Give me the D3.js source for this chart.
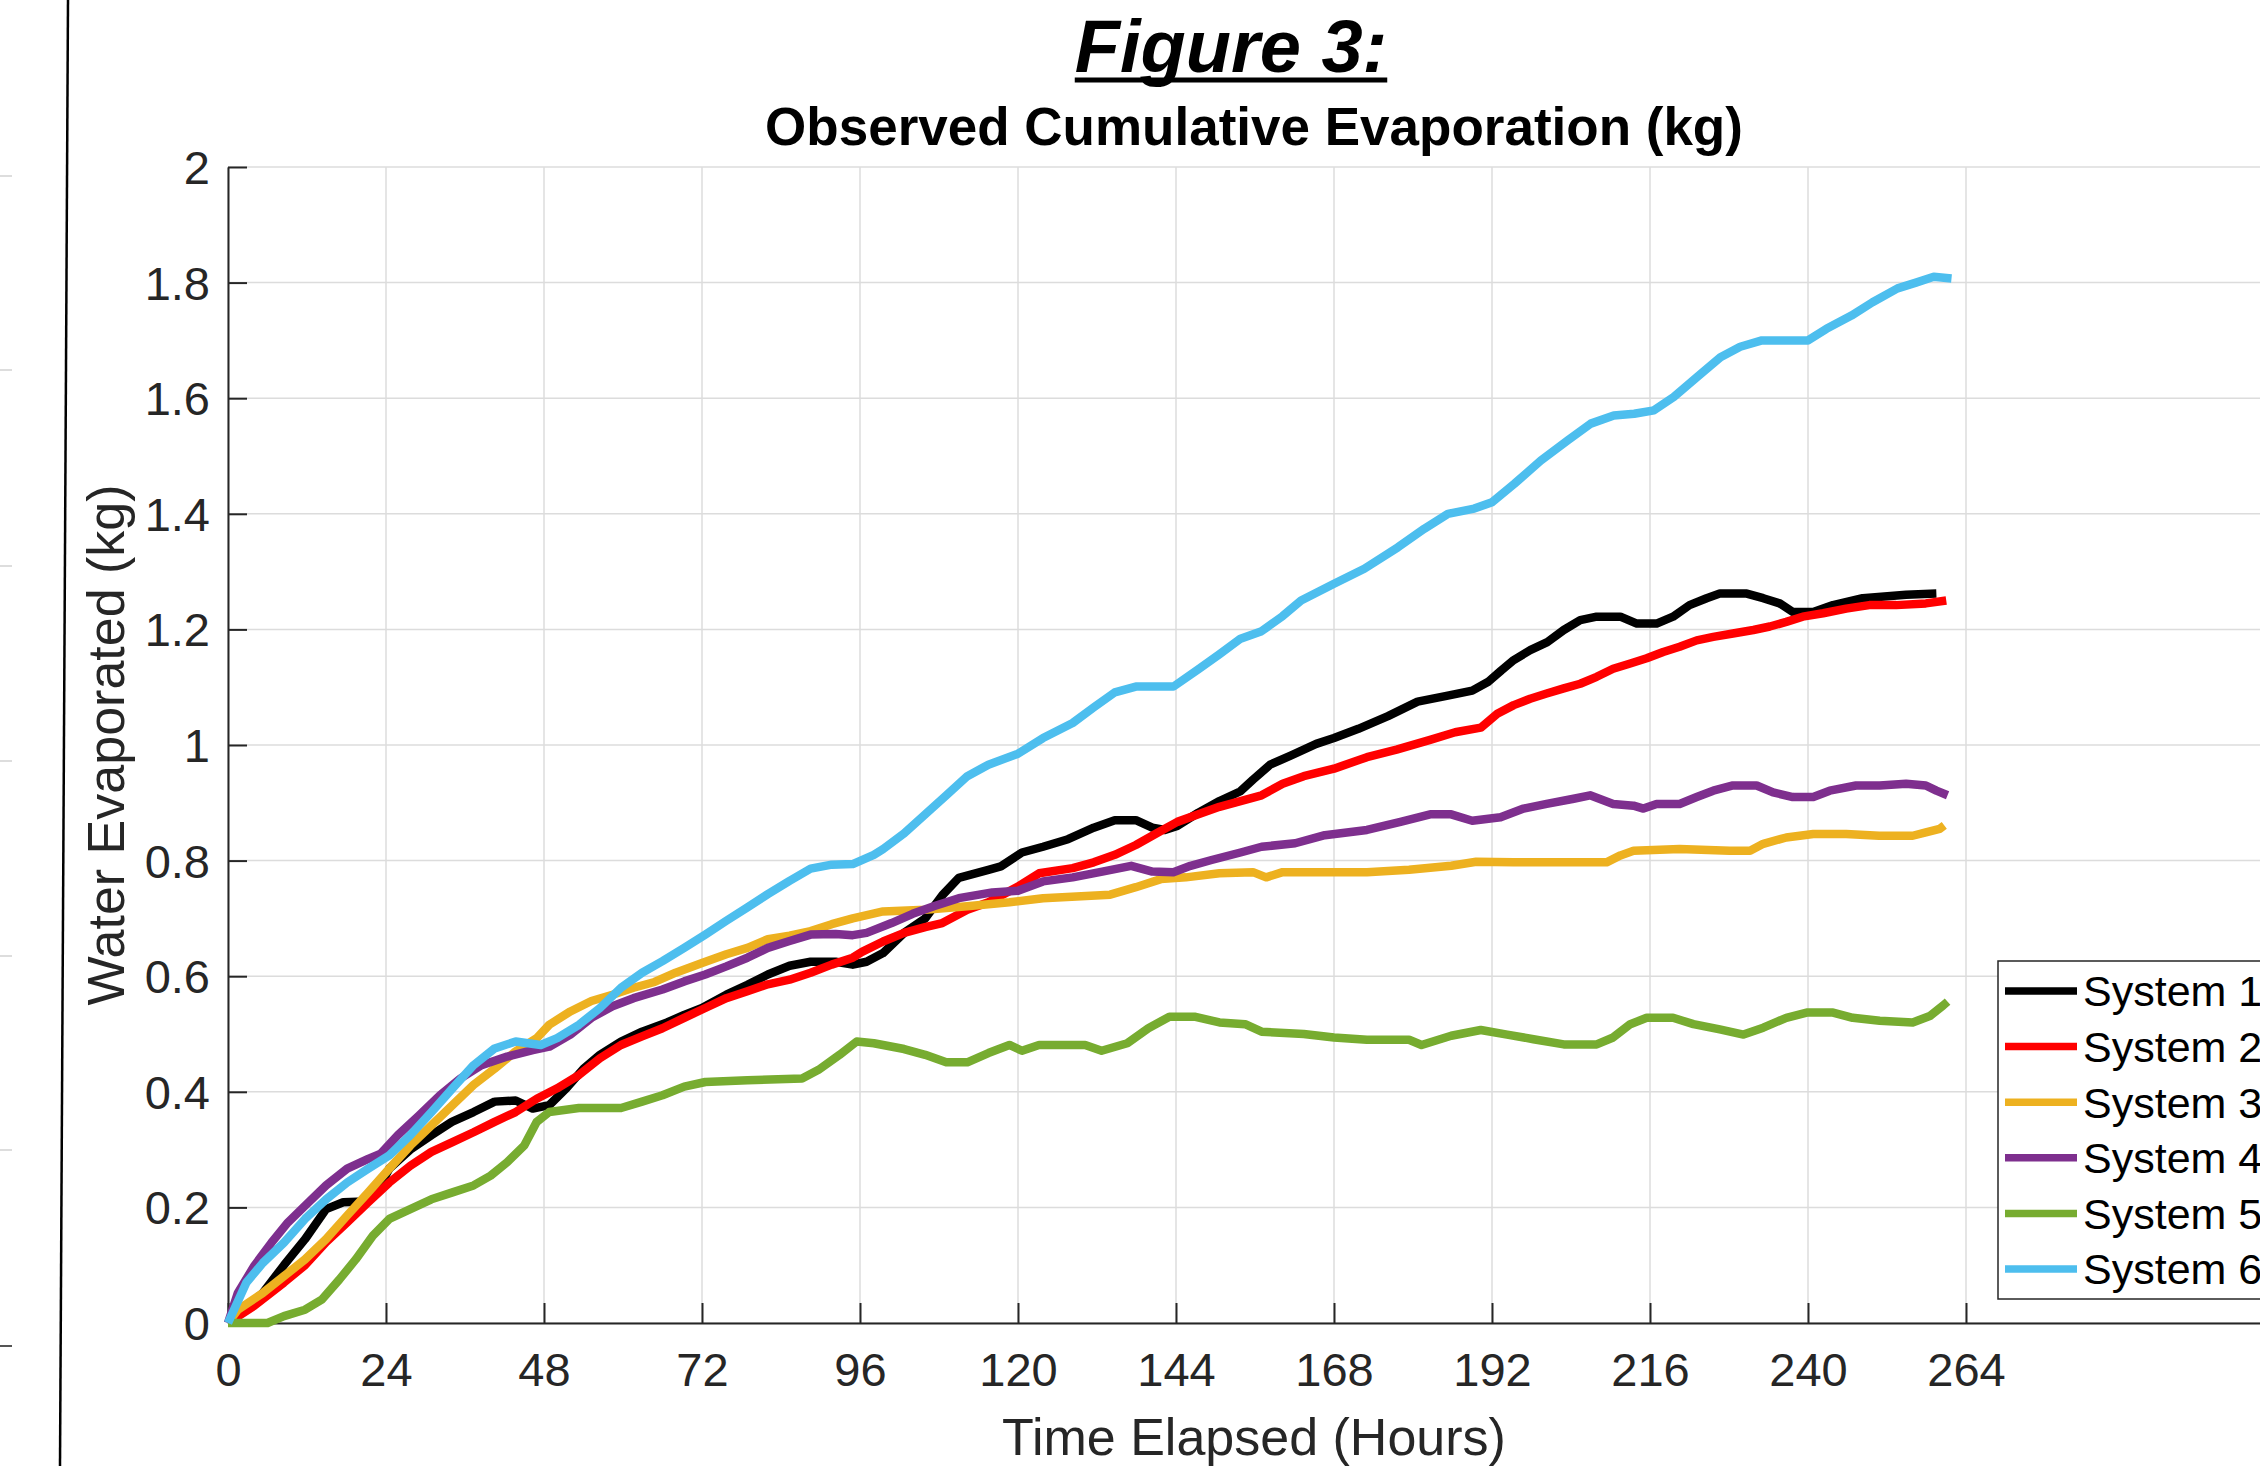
<!DOCTYPE html>
<html>
<head>
<meta charset="utf-8">
<title>Figure 3</title>
<script src="https://cdn.jsdelivr.net/npm/d3@7"></script>
<style>
    body { margin: 0; background: #fff; }
    svg { display: block; font-family: "Liberation Sans", Arial, sans-serif; }
</style>
</head>
<body>
<div id="chart"></div>
<script>
// Data: [hours, kg]
const system1 = [[0,0],[2,0.02],[5.3,0.052],[8.5,0.10],[11.7,0.145],[14.9,0.197],[17.5,0.209],[20.7,0.21],[22.5,0.225],[24.5,0.267],[27.7,0.30],[30.9,0.325],[34,0.348],[37.3,0.365],[40.5,0.383],[43.7,0.385],[46.3,0.371],[48.8,0.377],[51.4,0.406],[54,0.44],[56.5,0.464],[59.7,0.487],[62.9,0.504],[66.7,0.52],[69.3,0.533],[72,0.545],[75.7,0.568],[78.9,0.585],[82,0.603],[85.3,0.618],[88.5,0.625],[92.3,0.625],[94.9,0.62],[97,0.625],[99.5,0.64],[102.7,0.675],[105.9,0.70],[108.5,0.74],[111,0.77],[115.5,0.784],[117.4,0.79],[120.6,0.814],[123.8,0.824],[127.6,0.837],[131.5,0.857],[134.7,0.87],[137.9,0.87],[140.4,0.857],[142.3,0.853],[144.2,0.86],[147.4,0.883],[150.6,0.903],[153.8,0.92],[155.7,0.94],[158.3,0.966],[161.5,0.982],[165.3,1.002],[168,1.012],[171.7,1.028],[176.2,1.05],[180.7,1.075],[185.1,1.085],[189,1.094],[191.5,1.11],[193.4,1.129],[195.3,1.147],[197.8,1.164],[200.4,1.178],[202.9,1.199],[205.4,1.216],[207.9,1.222],[211.5,1.222],[214,1.21],[217,1.21],[219.5,1.222],[222,1.242],[224.6,1.254],[226.6,1.262],[230.7,1.262],[233.2,1.254],[235.7,1.245],[237.7,1.23],[240.8,1.23],[243.8,1.242],[248.3,1.254],[254.9,1.26],[259.5,1.262]];
const system2 = [[0,0],[4,0.03],[8.5,0.07],[11.7,0.10],[14.9,0.14],[18.1,0.174],[21.3,0.209],[24.5,0.243],[27.7,0.272],[30.9,0.296],[34.1,0.313],[37.3,0.33],[40.5,0.348],[43.7,0.365],[46.9,0.388],[50,0.406],[53.3,0.429],[56.5,0.458],[59.7,0.481],[62.9,0.496],[66,0.51],[69.3,0.528],[72.5,0.545],[75.7,0.562],[78.9,0.574],[82,0.586],[85.3,0.594],[88.5,0.606],[91.7,0.62],[94.9,0.632],[96.3,0.642],[99.5,0.66],[102.7,0.675],[105.9,0.685],[108.5,0.692],[112.3,0.715],[115.5,0.728],[120,0.755],[123.2,0.778],[128.3,0.787],[131.5,0.797],[134.7,0.81],[137.9,0.827],[141,0.847],[144.2,0.867],[147.4,0.88],[150.6,0.893],[153.8,0.903],[157,0.913],[160.2,0.933],[163.4,0.946],[168,0.959],[173,0.979],[177.5,0.992],[182.6,1.009],[186.4,1.022],[190.3,1.03],[192.8,1.054],[195.3,1.069],[197.8,1.08],[200.3,1.089],[202.9,1.098],[205.4,1.106],[207.9,1.118],[210.4,1.132],[213,1.141],[215.5,1.15],[218,1.161],[220.5,1.17],[223.1,1.181],[225.6,1.187],[228.6,1.193],[231.7,1.199],[234.2,1.205],[236.7,1.213],[239.2,1.222],[242.3,1.228],[245.8,1.236],[249.3,1.242],[253.4,1.242],[257.9,1.245],[261,1.25]];
const system3 = [[0,0],[1.5,0.023],[5.3,0.052],[8.5,0.081],[11.7,0.11],[14.9,0.145],[18.1,0.186],[21.3,0.226],[24.5,0.267],[27.7,0.307],[30.9,0.342],[34.1,0.377],[37.3,0.412],[40.5,0.44],[43.7,0.47],[46.9,0.493],[48.8,0.516],[52,0.539],[55.2,0.557],[58.4,0.568],[61.6,0.58],[64.8,0.59],[68,0.606],[72,0.623],[75.7,0.638],[78.9,0.649],[82,0.664],[85.3,0.67],[88.5,0.678],[91.7,0.69],[94.9,0.70],[99.5,0.712],[105.9,0.715],[112.3,0.721],[118.7,0.728],[123.8,0.735],[128.9,0.738],[134,0.741],[137.9,0.754],[141.7,0.768],[145.5,0.771],[150.6,0.778],[155.7,0.78],[157.7,0.771],[160.2,0.78],[166.6,0.78],[173,0.78],[179.4,0.784],[185.8,0.791],[189.6,0.798],[195.3,0.797],[200.3,0.797],[205.4,0.797],[209.4,0.797],[211.5,0.809],[213.5,0.817],[220.5,0.82],[228.1,0.817],[231.2,0.817],[233.2,0.829],[236.7,0.84],[240.8,0.846],[245.8,0.846],[250.8,0.843],[255.9,0.843],[257.9,0.849],[260,0.855],[260.7,0.861]];
const system4 = [[0,0],[1.5,0.052],[4,0.099],[6.6,0.139],[9.1,0.174],[11.7,0.203],[14.9,0.238],[18.1,0.267],[21.3,0.284],[23.2,0.293],[25.8,0.325],[29,0.359],[32.2,0.394],[35.3,0.423],[38.5,0.446],[42.4,0.461],[46.3,0.472],[48.8,0.478],[52,0.499],[55.2,0.528],[58.4,0.548],[61.6,0.562],[66,0.577],[69.3,0.591],[72.5,0.603],[75.7,0.617],[78.9,0.632],[82,0.649],[85.3,0.661],[88.5,0.672],[92.3,0.673],[94.9,0.671],[97,0.675],[100.8,0.692],[104,0.708],[107.2,0.721],[111,0.735],[116.1,0.745],[120,0.748],[123.8,0.764],[128.3,0.771],[132.8,0.781],[137.2,0.791],[140.4,0.781],[143.6,0.78],[146.2,0.791],[149.4,0.801],[153.8,0.814],[157,0.824],[162.1,0.83],[166.6,0.844],[173,0.853],[178.1,0.867],[182.6,0.88],[185.8,0.88],[189,0.869],[193.3,0.875],[196.8,0.89],[200.3,0.898],[204.4,0.907],[206.9,0.913],[210.4,0.898],[213.5,0.895],[215,0.89],[217,0.898],[220.5,0.898],[223.1,0.91],[225.6,0.921],[228.6,0.93],[232.2,0.93],[234.7,0.918],[237.7,0.91],[240.8,0.91],[243.3,0.921],[247.3,0.93],[250.9,0.93],[254.9,0.933],[257.9,0.93],[259.5,0.921],[261.2,0.913]];
const system5 = [[0,0],[6,0],[8.5,0.012],[11.7,0.023],[14.3,0.041],[16.9,0.075],[19.4,0.11],[22,0.151],[24.5,0.18],[27.7,0.197],[30.9,0.214],[34.1,0.226],[37.3,0.238],[39.9,0.255],[42.4,0.278],[45,0.307],[46.9,0.348],[48.8,0.365],[53.3,0.372],[59.7,0.372],[62.9,0.383],[66,0.394],[69.3,0.409],[72.5,0.417],[78.9,0.42],[87.2,0.423],[89.7,0.438],[92.9,0.464],[95.5,0.487],[98.1,0.484],[102.7,0.474],[105.9,0.464],[109.1,0.451],[112.3,0.451],[115.5,0.467],[118.7,0.481],[120.6,0.471],[123.2,0.481],[130.2,0.481],[132.7,0.471],[136.6,0.484],[139.8,0.51],[143,0.53],[146.8,0.53],[150.6,0.52],[154.5,0.517],[157,0.504],[163.4,0.5],[168,0.494],[173,0.49],[179.4,0.49],[181.3,0.481],[185.8,0.497],[190.3,0.507],[194.3,0.499],[198.3,0.491],[202.9,0.482],[207.9,0.482],[210.4,0.494],[213,0.517],[215.5,0.528],[219.5,0.528],[222.6,0.517],[226.6,0.508],[230.2,0.499],[233.2,0.511],[236.7,0.528],[239.8,0.537],[243.8,0.537],[246.8,0.528],[250.9,0.523],[255.9,0.52],[258.5,0.531],[260.5,0.549],[261.2,0.556]];
const system6 = [[0,0],[2.8,0.07],[5.3,0.104],[8.5,0.139],[11.7,0.18],[14.9,0.214],[18.1,0.243],[21.3,0.267],[24.5,0.29],[27.7,0.325],[30.9,0.365],[34.1,0.406],[37.3,0.446],[40.5,0.475],[43.7,0.487],[47.5,0.481],[50,0.493],[53.3,0.516],[56.5,0.545],[59.7,0.58],[62.9,0.606],[66,0.626],[69.3,0.649],[72.5,0.672],[75.7,0.696],[78.9,0.719],[82,0.742],[85.3,0.765],[88.5,0.786],[91.7,0.793],[94.9,0.794],[98.1,0.81],[99.5,0.82],[102.7,0.847],[105.9,0.88],[109.1,0.913],[112.3,0.946],[115.5,0.966],[120,0.985],[123.8,1.012],[128.3,1.038],[131.5,1.065],[134.7,1.091],[137.9,1.101],[143.6,1.101],[147.4,1.131],[150.6,1.157],[153.8,1.184],[157,1.197],[160.2,1.223],[163,1.25],[168,1.279],[172.6,1.305],[177.7,1.342],[181.7,1.374],[185.3,1.40],[189.3,1.409],[192,1.42],[195.4,1.452],[199.4,1.492],[203.5,1.527],[207,1.556],[210.5,1.57],[213.6,1.573],[216.6,1.579],[219.6,1.602],[223.2,1.637],[226.7,1.671],[229.7,1.689],[233,1.70],[240,1.70],[242.8,1.72],[246.6,1.743],[249.8,1.766],[253.6,1.79],[256.4,1.80],[259.1,1.81],[261.8,1.807]];

const seriesNames = ["System 1", "System 2", "System 3", "System 4", "System 5", "System 6"];
const seriesColors = ["#000000", "#ff0000", "#edb120", "#7e2f8e", "#77ac30", "#4dbeee"];
const xTicks = [0, 24, 48, 72, 96, 120, 144, 168, 192, 216, 240, 264];
const yTicks = [0, 0.2, 0.4, 0.6, 0.8, 1, 1.2, 1.4, 1.6, 1.8, 2];

function initChart() {
    const width = 2260, height = 1466;
    const left = 228, bottom = 1323, top = 167;
    const axisColor = "#262626";

    const svg = d3.select("#chart").append("svg")
        .attr("width", width)
        .attr("height", height);

    const x = d3.scaleLinear().domain([0, 264]).range([left, 1966]);
    const y = d3.scaleLinear().domain([0, 2]).range([bottom, top]);

    // leftover edge of the neighbouring figure
    const edge = svg.append("g");
    edge.append("line")
        .attr("x1", 68).attr("y1", 0).attr("x2", 60).attr("y2", height)
        .attr("stroke", "#000").attr("stroke-width", 2.5);
    [176, 370, 566, 761, 956, 1150].forEach(yy => {
        edge.append("line")
            .attr("x1", 0).attr("x2", 12).attr("y1", yy).attr("y2", yy)
            .attr("stroke", "#ddd").attr("stroke-width", 2);
    });
    edge.append("line")
        .attr("x1", 0).attr("x2", 12).attr("y1", 1346).attr("y2", 1346)
        .attr("stroke", "#555").attr("stroke-width", 2);

    // grid
    const grid = svg.append("g").attr("stroke", "#dcdcdc").attr("stroke-width", 1.5);
    grid.selectAll(".gx").data(xTicks).enter().append("line")
        .attr("x1", d => x(d)).attr("x2", d => x(d))
        .attr("y1", top).attr("y2", bottom);
    grid.selectAll(".gy").data(yTicks).enter().append("line")
        .attr("x1", left).attr("x2", width)
        .attr("y1", d => y(d)).attr("y2", d => y(d));

    // axes
    const xAxis = d3.axisBottom(x).tickValues(xTicks).tickSizeInner(-20).tickSizeOuter(0).tickPadding(30);
    const yAxis = d3.axisLeft(y).tickValues(yTicks).tickSizeInner(-19).tickSizeOuter(0).tickPadding(18)
        .tickFormat(d => d3.format("")(+d.toFixed(1)));

    const gx = svg.append("g").attr("transform", `translate(0,${bottom})`).call(xAxis);
    gx.select(".domain").attr("d", `M${left},0.5H${width}`);
    const gy = svg.append("g").attr("transform", `translate(${left},0)`).call(yAxis);

    [gx, gy].forEach(g => {
        g.select(".domain").attr("stroke", axisColor).attr("stroke-width", 2);
        g.selectAll(".tick line").attr("stroke", axisColor).attr("stroke-width", 2);
        g.selectAll(".tick text")
            .attr("fill", axisColor)
            .attr("font-size", 47)
            .attr("font-family", "Liberation Sans, Arial, sans-serif");
    });
    gx.selectAll(".tick text").attr("dy", "0.71em");
    gy.selectAll(".tick text").attr("dy", "0.35em");

    // series
    const line = d3.line().x(d => x(d[0])).y(d => y(d[1]));
    const allSeries = [system1, system2, system3, system4, system5, system6];
    svg.append("g").selectAll("path")
        .data(allSeries).enter().append("path")
        .attr("d", line)
        .attr("fill", "none")
        .attr("stroke", (d, i) => seriesColors[i])
        .attr("stroke-width", 8.5)
        .attr("stroke-linejoin", "round");

    // titles and labels
    const fig = svg.append("text")
        .attr("x", 1231).attr("y", 72)
        .attr("text-anchor", "middle")
        .attr("font-size", 74).attr("font-weight", "bold").attr("font-style", "italic")
        .text("Figure 3:");
    const fw = fig.node().getComputedTextLength();
    svg.append("line")
        .attr("x1", 1231 - fw / 2).attr("x2", 1231 + fw / 2)
        .attr("y1", 80).attr("y2", 80)
        .attr("stroke", "#000").attr("stroke-width", 5);

    svg.append("text")
        .attr("x", 1254).attr("y", 145)
        .attr("text-anchor", "middle")
        .attr("font-size", 53).attr("font-weight", "bold")
        .text("Observed Cumulative Evaporation (kg)");

    svg.append("text")
        .attr("x", 1254).attr("y", 1455)
        .attr("text-anchor", "middle")
        .attr("font-size", 52).attr("fill", axisColor)
        .text("Time Elapsed (Hours)");

    svg.append("text")
        .attr("transform", `translate(124,${(top + bottom) / 2}) rotate(-90)`)
        .attr("text-anchor", "middle")
        .attr("font-size", 52).attr("fill", axisColor)
        .text("Water Evaporated (kg)");

    // legend
    const legend = svg.append("g").attr("transform", "translate(1998,961)");
    legend.append("rect")
        .attr("width", 320).attr("height", 338)
        .attr("fill", "#fff").attr("stroke", axisColor).attr("stroke-width", 1.5);
    const item = legend.selectAll(".item").data(seriesNames).enter().append("g")
        .attr("transform", (d, i) => `translate(0,${30 + i * 55.6})`);
    item.append("line")
        .attr("x1", 7).attr("x2", 79)
        .attr("stroke", (d, i) => seriesColors[i])
        .attr("stroke-width", 7.5);
    item.append("text")
        .attr("x", 85).attr("dy", "0.36em")
        .attr("font-size", 43)
        .text(d => d);
}

document.addEventListener('DOMContentLoaded', initChart);
</script>
</body>
</html>
